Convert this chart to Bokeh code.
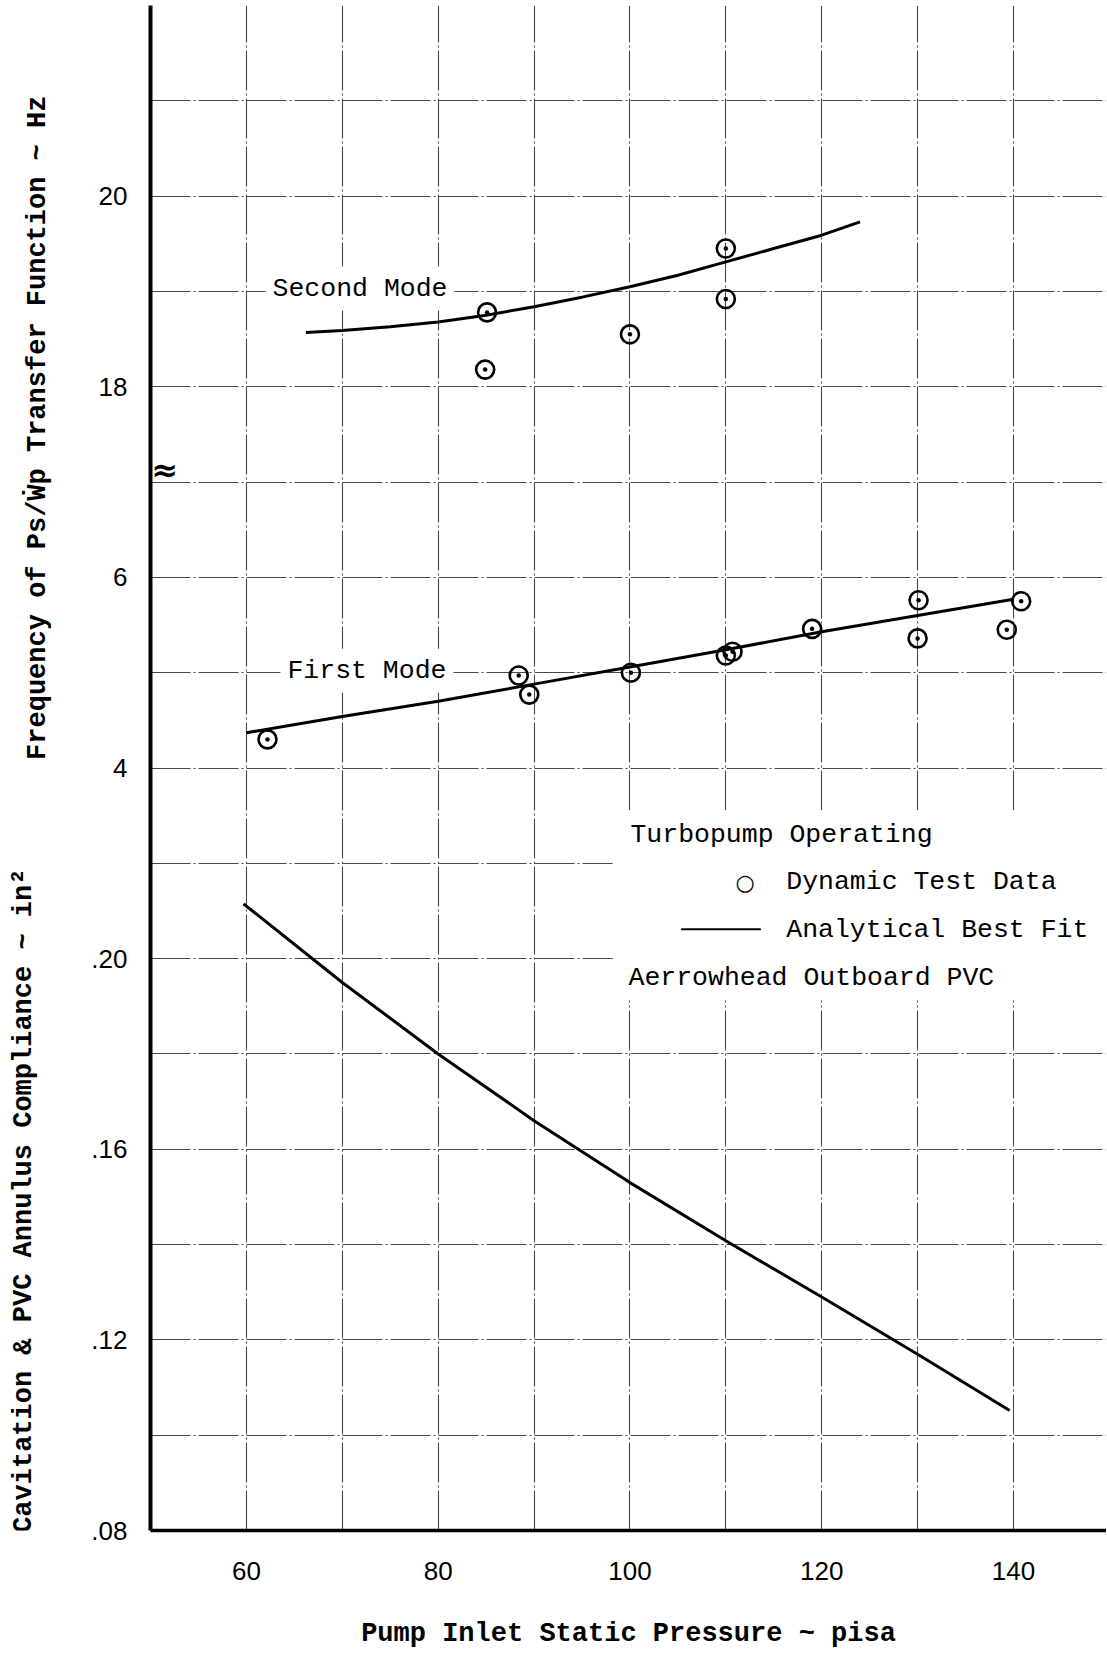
import math
from bokeh.plotting import figure
from bokeh.layouts import row
from bokeh.models import Range1d, FixedTicker, Label, BoxAnnotation
from bokeh.embed import file_html
from bokeh.resources import INLINE

# ---------------- data ----------------
# Second mode (Hz)
second_test_p = [85.1, 84.9, 100.0, 110.0, 110.0]
second_test_f = [18.78, 18.18, 18.55, 19.45, 18.92]
second_fit_p = [66.2, 70, 75, 80, 85, 90, 95, 100, 105, 110, 115, 120, 124.0]
second_fit_f = [18.57, 18.59, 18.63, 18.68, 18.75, 18.84, 18.94, 19.05, 19.17, 19.31, 19.45, 19.59, 19.73]

# First mode (Hz)
first_test_p = [62.2, 88.4, 89.5, 100.1, 110.0, 110.7, 119.0, 130.1, 130.0, 140.8, 139.3]
first_test_f = [4.30, 4.97, 4.77, 5.00, 5.18, 5.22, 5.46, 5.76, 5.36, 5.75, 5.45]
first_fit_p = [60, 70, 80, 90, 100, 110, 120, 130, 140]
first_fit_f = [4.37, 4.54, 4.70, 4.88, 5.06, 5.24, 5.43, 5.60, 5.77]

# Cavitation & PVC annulus compliance (in^2)
comp_p = [59.7, 70, 80, 90, 100, 110, 120, 130, 139.6]
comp_c = [0.2115, 0.1950, 0.1800, 0.1660, 0.1530, 0.1408, 0.1290, 0.1170, 0.1052]

x_ticks = [60, 80, 100, 120, 140]
comp_ticks = [0.08, 0.12, 0.16, 0.20]
comp_tick_labels = [".08", ".12", ".16", ".20"]
first_ticks = [4, 6]
second_ticks = [18, 20]

# ---------------- ranges ----------------
comp_range = Range1d(0.08, 0.40)      # base scale (bottom panel)
first_range = Range1d(-4, 12)         # 3 Hz coincides with .22
second_range = Range1d(6, 22)         # 17 Hz coincides with 7 Hz (axis break)
x_range = Range1d(50, 149.7)

H = 1652
TOP = 5
BOTTOM = 122
LEFT_STRIP = 60
FRAME_LEFT = 150
TOTAL_W = 1106


def to_base(v, r):
    span_b = comp_range.end - comp_range.start
    return round(comp_range.start + (v - r.start) / (r.end - r.start) * span_b, 6)


p = figure(width=TOTAL_W - LEFT_STRIP, height=H, x_range=x_range, y_range=comp_range,
           output_backend="svg", toolbar_location=None,
           min_border_left=FRAME_LEFT - LEFT_STRIP, min_border_right=0,
           min_border_top=TOP, min_border_bottom=BOTTOM)
p.extra_y_ranges = {"first": first_range, "second": second_range}
p.outline_line_color = None
p.background_fill_color = "white"
p.border_fill_color = "white"

# ---------------- grid ----------------
grid_y = [to_base(v, comp_range) for v in [0.08 + 0.02 * i for i in range(17)]]
p.ygrid.ticker = FixedTicker(ticks=grid_y)
p.xgrid.ticker = FixedTicker(ticks=list(range(50, 151, 10)))
for g in (p.xgrid, p.ygrid):
    g.grid_line_color = "#1a1a1a"
    g.grid_line_alpha = 0.8
    g.grid_line_width = 1.1
    g.grid_line_dash = "40 3 2 3"

# ---------------- axes ----------------
xa = p.xaxis[0]
xa.ticker = FixedTicker(ticks=x_ticks)
xa.axis_line_width = 3.5
xa.axis_line_color = "black"
xa.major_tick_in = 0
xa.major_tick_out = 0
xa.minor_tick_in = 0
xa.minor_tick_out = 0
xa.major_label_text_font = "Liberation Sans"
xa.major_label_text_font_size = "26px"
xa.major_label_text_color = "black"
xa.major_label_standoff = 31
xa.axis_label = "Pump Inlet Static Pressure ~ pisa"
xa.axis_label_text_font = "Liberation Mono"
xa.axis_label_text_font_style = "bold"
xa.axis_label_text_font_size = "27px"
xa.axis_label_text_color = "black"
xa.axis_label_standoff = 36

ya = p.yaxis[0]
y_tick_vals = []
y_overrides = {}
for v, lab in zip(comp_ticks, comp_tick_labels):
    b = to_base(v, comp_range)
    y_tick_vals.append(b)
    y_overrides[b] = lab
for v in first_ticks:
    b = to_base(v, first_range)
    y_tick_vals.append(b)
    y_overrides[b] = str(v)
for v in second_ticks:
    b = to_base(v, second_range)
    y_tick_vals.append(b)
    y_overrides[b] = str(v)
ya.ticker = FixedTicker(ticks=y_tick_vals)
ya.major_label_overrides = y_overrides
ya.axis_line_width = 4
ya.axis_line_color = "black"
ya.major_tick_in = 0
ya.major_tick_out = 0
ya.minor_tick_in = 0
ya.minor_tick_out = 0
ya.major_label_text_font = "Liberation Sans"
ya.major_label_text_font_size = "26px"
ya.major_label_text_color = "black"
ya.major_label_standoff = 23

# ---------------- data glyphs ----------------
p.line(second_fit_p, second_fit_f, y_range_name="second", line_color="black", line_width=3)
p.scatter(second_test_p, second_test_f, y_range_name="second", marker="circle_dot",
          size=18, fill_color=None, line_color="black", line_width=2.6)

p.line(first_fit_p, first_fit_f, y_range_name="first", line_color="black", line_width=3)
p.scatter(first_test_p, first_test_f, y_range_name="first", marker="circle_dot",
          size=18, fill_color=None, line_color="black", line_width=2.6)

p.line(comp_p, comp_c, line_color="black", line_width=3)

# ---------------- annotations ----------------
mono = "Liberation Mono, DejaVu Sans Mono"
fs = "26.5px"

# white area behind the legend block
p.add_layout(BoxAnnotation(left=98.2, right=149.7, bottom=0.1912, top=0.2311,
                           fill_color="white", fill_alpha=1.0, line_color=None))

p.add_layout(Label(x=62.0, y=19.03, y_range_name="second", text="Second Mode",
                   text_font=mono, text_font_size=fs, text_color="black",
                   text_align="left", text_baseline="middle",
                   background_fill_color="white", padding=7))
p.add_layout(Label(x=63.55, y=5.02, y_range_name="first", text="First Mode",
                   text_font=mono, text_font_size=fs, text_color="black",
                   text_align="left", text_baseline="middle",
                   background_fill_color="white", padding=7))

p.add_layout(Label(x=100.05, y=0.2260, text="Turbopump Operating",
                   text_font=mono, text_font_size=fs, text_color="black",
                   text_align="left", text_baseline="middle"))
p.add_layout(Label(x=112.0, y=0.2160, text="\u25CB",
                   text_font="DejaVu Sans", text_font_size="22px", text_color="black",
                   text_align="center", text_baseline="middle"))
p.add_layout(Label(x=116.3, y=0.2160, text="Dynamic Test Data",
                   text_font=mono, text_font_size=fs, text_color="black",
                   text_align="left", text_baseline="middle"))
p.add_layout(BoxAnnotation(left=105.4, right=113.6, bottom=0.2061, top=0.2062,
                           fill_color="black", fill_alpha=1.0,
                           line_color="black", line_alpha=1.0, line_width=1.5))
p.add_layout(Label(x=116.3, y=0.2061, text="Analytical Best Fit",
                   text_font=mono, text_font_size=fs, text_color="black",
                   text_align="left", text_baseline="middle"))
p.add_layout(Label(x=99.85, y=0.1960, text="Aerrowhead Outboard PVC",
                   text_font=mono, text_font_size=fs, text_color="black",
                   text_align="left", text_baseline="middle"))

# axis break symbol (just right of the axis line)
p.add_layout(Label(x=50.1, y=0.3026, text="\u2248", text_font="DejaVu Sans",
                   text_font_size="32px", text_font_style="bold", text_color="black",
                   text_align="left", text_baseline="middle"))

# ---------------- strip holding the y-axis titles ----------------
s = figure(width=LEFT_STRIP, height=H, x_range=Range1d(0, LEFT_STRIP), y_range=comp_range,
           output_backend="svg", toolbar_location=None,
           min_border_left=0, min_border_right=0, min_border_top=TOP,
           min_border_bottom=BOTTOM)
s.axis.visible = False
s.grid.visible = False
s.outline_line_color = None
s.background_fill_color = "white"
s.border_fill_color = "white"

s.add_layout(Label(x=37, y=0.3114, angle=math.pi / 2,
                   text="Frequency of Ps/\u1E86p Transfer Function ~ Hz",
                   text_font=mono, text_font_size="27px", text_font_style="bold",
                   text_color="black", text_align="center", text_baseline="middle"))
s.add_layout(Label(x=23, y=0.1492, angle=math.pi / 2,
                   text="Cavitation & PVC Annulus Compliance ~ in\u00B2",
                   text_font=mono, text_font_size="27px", text_font_style="bold",
                   text_color="black", text_align="center", text_baseline="middle"))

layout = row(s, p, spacing=0)
open("out.html", "w").write(file_html(layout, INLINE))
